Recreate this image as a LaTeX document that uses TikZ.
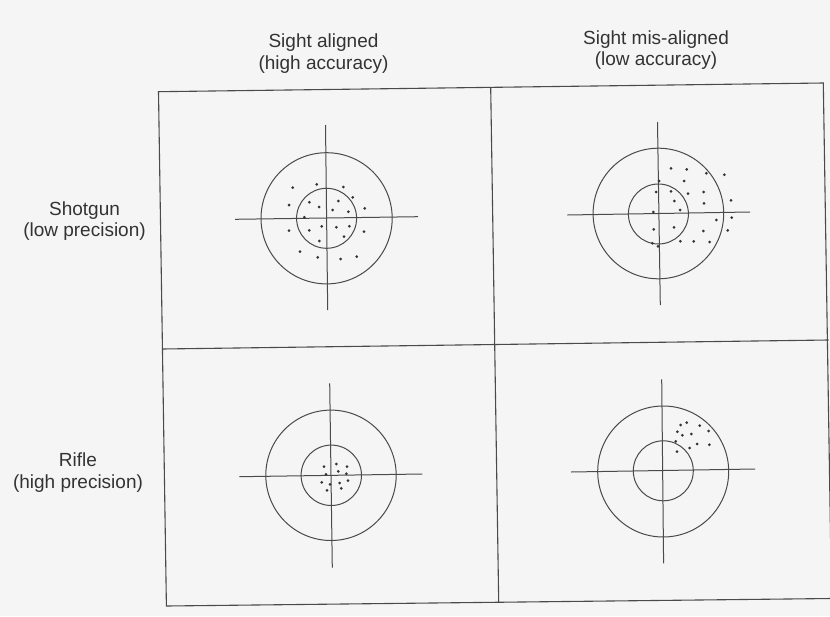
\documentclass[tikz,border=0pt]{standalone}
\usepackage{fontspec}
\setmainfont{Liberation Sans}
\definecolor{bg}{HTML}{F5F5F5}
\definecolor{ink}{HTML}{4A4A4A}
\definecolor{txt}{HTML}{333333}
\begin{document}
\begin{tikzpicture}[x=1pt,y=-1pt,
  frame/.style={draw=ink,line width=1.1pt},
  ring/.style={draw=ink,line width=1pt},
  hair/.style={draw=ink,line width=1pt},
  shot/.style={fill=txt,draw=none},
  lbl/.style={text=txt,font=\fontsize{19}{21.5}\selectfont,align=center,inner sep=0pt}]
\fill[bg] (0,0) rectangle (830,616);
\useasboundingbox (0,0) rectangle (830,616);

% frame (slightly rotated as in the scan)
\coordinate (TL) at (158.5,91.7);
\coordinate (TR) at (823.3,83);
\coordinate (BR) at (831.5,598.5);
\coordinate (BL) at (166.4,606);
\coordinate (TM) at (490.7,87.5);
\coordinate (BM) at (498.7,602);
\coordinate (LM) at (162.2,349);
\coordinate (RM) at (828.5,340);
\draw[frame] (TL) -- (TR) -- (BR) -- (BL) -- cycle;
\draw[frame] (TM) -- (BM);
\draw[frame] (LM) -- (RM);

% labels
\node[lbl] (c1) at (323.5,53.5) {Sight aligned\\(high accuracy)};
\node[lbl] (c2) at (656,50) {Sight mis-aligned\\(low accuracy)};
\node[lbl] (r1) at (84.5,221) {Shotgun\\(low precision)};
\node[lbl] (r2) at (78,472.5) {Rifle\\(high precision)};

% target 1: shotgun, aligned
\draw[ring] (326.6,218.3) circle[radius=65.6pt];
\draw[ring] (326.6,218.3) circle[radius=30pt];
\coordinate (v1a) at (325.5,125); \coordinate (v1b) at (327.7,310);
\coordinate (h1a) at (235,219.3); \coordinate (h1b) at (418,216.7);
\draw[hair] (v1a) -- (v1b); \draw[hair] (h1a) -- (h1b);
\foreach \p in {(292.7,187.7),(316.7,184.3),(343.3,187),(352.7,197.3),(289,205),(309.3,202.3),(319,207),(338.3,201),(332.7,210),(348.3,211.7),(364.7,208.3),(304.3,217.3),(289,230.7),(309.3,230.3),(321.7,226.3),(336.3,227.3),(349.3,226.3),(364,231.7),(344,236.7),(319.3,241),(300,251.7),(317.7,257.3),(340.7,259),(356.7,256.7)}
  \fill[shot] \p circle[radius=1.5pt];

% target 2: shotgun, mis-aligned
\draw[ring] (658.4,213.5) circle[radius=65.3pt];
\draw[ring] (658.4,214) circle[radius=30pt];
\coordinate (v2a) at (657.5,122); \coordinate (v2b) at (660.3,305);
\coordinate (h2a) at (567.3,215); \coordinate (h2b) at (750,212);
\draw[hair] (v2a) -- (v2b); \draw[hair] (h2a) -- (h2b);
\foreach \p in {(671,168.3),(686.7,169.3),(706.3,173.3),(724.3,174.7),(684,181),(659,181),(656,192),(671,191.3),(688,193.7),(703.7,192),(674.3,201),(704,203.3),(731,200.3),(680,210),(653.3,212),(716.3,220),(731.7,217.7),(653.7,229.3),(674,227.3),(703.3,231),(727.7,230.3),(680.3,241.3),(693.7,241.3),(709.7,242),(652.3,243.3),(658,246.3)}
  \fill[shot] \p circle[radius=1.5pt];

% target 3: rifle, aligned
\draw[ring] (331,475.3) circle[radius=65.2pt];
\draw[ring] (331.3,475.3) circle[radius=30.2pt];
\coordinate (v3a) at (329.7,383.3); \coordinate (v3b) at (332.3,567.7);
\coordinate (h3a) at (239.3,476.7); \coordinate (h3b) at (422.3,474);
\draw[hair] (v3a) -- (v3b); \draw[hair] (h3a) -- (h3b);
\foreach \p in {(324,466.7),(336.3,464),(347,466.7),(326,474.3),(338.3,471.3),(346.3,473.7),(321.7,482.3),(330,484.3),(339.7,483),(348,480.7),(327,490.3),(341.3,488.3)}
  \fill[shot] \p circle[radius=1.5pt];

% target 4: rifle, mis-aligned
\draw[ring] (663.2,471.5) circle[radius=65.5pt];
\draw[ring] (663.3,470.8) circle[radius=30pt];
\coordinate (v4a) at (661.7,379.3); \coordinate (v4b) at (663.6,563.3);
\coordinate (h4a) at (571,472); \coordinate (h4b) at (755,469);
\draw[hair] (v4a) -- (v4b); \draw[hair] (h4a) -- (h4b);
\foreach \p in {(680.7,425),(686.7,422.7),(699.7,425.7),(708.7,431),(677.3,431.7),(682.3,435.3),(691.3,434),(675.7,441.3),(697,444),(709.3,444.7),(689.7,448),(677,451.7)}
  \fill[shot] \p circle[radius=1.5pt];
\end{tikzpicture}
\end{document}
